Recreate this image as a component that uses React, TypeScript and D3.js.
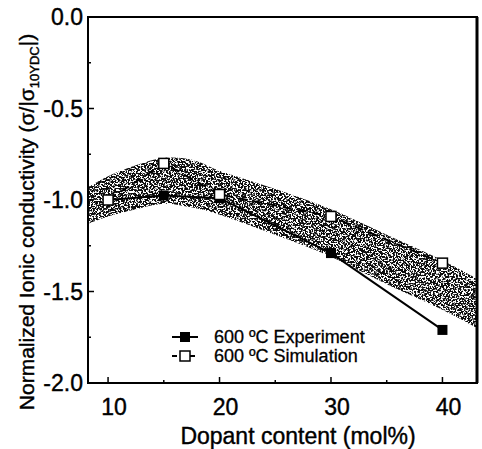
import React from "react";
import * as d3 from "d3";

const dopant = [10, 15, 20, 30, 40];
const experiment = [-1.0, -0.975, -0.99, -1.29, -1.71];
const simulation = [-1.0, -0.8, -0.97, -1.09, -1.345];
const bandX = [8.2, 10, 12.5, 15, 17.5, 20, 25, 30, 35, 40, 43.1];
const bandUpper = [-0.93, -0.87, -0.81, -0.77, -0.78, -0.84, -0.94, -1.05, -1.19, -1.33, -1.43];
const bandLower = [-1.13, -1.09, -1.05, -1.02, -1.04, -1.08, -1.19, -1.31, -1.46, -1.6, -1.7];
const xTicks = [10, 20, 30, 40];
const xMinor = [15, 25, 35];
const yTicks = [0, -0.5, -1, -1.5, -2];
const yMinor = [-0.25, -0.75, -1.25, -1.75];
const legendLabels = ["600 ºC Experiment", "600 ºC Simulation"];

const W = 482, H = 449;
const L = 88, R = 477, T = 17, B = 383;
const FONT = "'Liberation Sans', Arial, sans-serif";

export default function App() {
  const x = d3.scaleLinear().domain([8.2, 43.1]).range([L, R]);
  const y = d3.scaleLinear().domain([0, -2]).range([T, B]);

  const band = d3
    .area<number>()
    .x((_, i) => x(bandX[i]))
    .y0((_, i) => y(bandLower[i]))
    .y1((_, i) => y(bandUpper[i]))
    .curve(d3.curveCatmullRom)(bandX);

  const line = d3
    .line<number>()
    .x((_, i) => x(dopant[i]));
  const expPath = line.y((d) => y(d))(experiment);
  const simPath = line.y((d) => y(d))(simulation);

  const sq = 10;
  const lx0 = 172, lx1 = 198, ly0 = 337, ldy = 19;

  return (
    <svg
      width={W}
      height={H}
      style={{ position: "absolute", left: 0, top: 0, background: "#fff" }}
      fontFamily={FONT}
    >
      <defs>
        <filter id="stipple" x="0" y="0" width="100%" height="100%">
          <feTurbulence type="fractalNoise" baseFrequency="0.6" numOctaves="2" seed="7" result="n" />
          <feColorMatrix
            in="n"
            type="matrix"
            values="0 0 0 0 0  0 0 0 0 0  0 0 0 0 0  12 0 0 0 -5.2"
            result="a"
          />
          <feComposite in="SourceGraphic" in2="a" operator="in" />
        </filter>
        <clipPath id="plotclip">
          <rect x={L} y={T} width={R - L} height={B - T} />
        </clipPath>
      </defs>

      <g clipPath="url(#plotclip)">
        <path d={band || ""} fill="#111" filter="url(#stipple)" />
      </g>

      {/* frame */}
      <rect x={L} y={T} width={R - L} height={B - T} fill="none" stroke="#000" strokeWidth={2} />
      <line x1={R} x2={R} y1={T} y2={B} stroke="#000" strokeWidth={3} />

      <g stroke="#000" strokeWidth={0.4}>
        {/* x ticks */}
        {xTicks.map((t) => (
          <g key={"xt" + t}>
            <line x1={x(t)} x2={x(t)} y1={B} y2={B - 6} strokeWidth={1.5} />
            <text x={x(t) + 6} y={415} textAnchor="middle" fontSize={23}>
              {t}
            </text>
          </g>
        ))}
        {xMinor.map((t) => (
          <line key={"xm" + t} x1={x(t)} x2={x(t)} y1={B} y2={B - 3} strokeWidth={1.5} />
        ))}

        {/* y ticks */}
        {yTicks.map((t) => (
          <g key={"yt" + t}>
            <line x1={L} x2={L + 6} y1={y(t)} y2={y(t)} strokeWidth={1.5} />
            <text x={83} y={y(t) + 8} textAnchor="end" fontSize={23}>
              {t === 0 ? "0.0" : d3.format(".1f")(t).replace("−", "-")}
            </text>
          </g>
        ))}
        {yMinor.map((t) => (
          <line key={"ym" + t} x1={L} x2={L + 3} y1={y(t)} y2={y(t)} strokeWidth={1.5} />
        ))}
      </g>

      {/* series lines */}
      <path d={simPath || ""} fill="none" stroke="#000" strokeWidth={2} strokeDasharray="9,6" />
      <path d={expPath || ""} fill="none" stroke="#000" strokeWidth={2} />
      {dopant.map((d, i) => (
        <rect
          key={"e" + d}
          x={x(d) - sq / 2}
          y={y(experiment[i]) - sq / 2}
          width={sq}
          height={sq}
          fill="#000"
        />
      ))}
      {dopant.map((d, i) => (
        <rect
          key={"s" + d}
          x={x(d) - sq / 2}
          y={y(simulation[i]) - sq / 2}
          width={sq}
          height={sq}
          fill="#fff"
          stroke="#000"
          strokeWidth={1.5}
        />
      ))}

      {/* legend */}
      <line x1={lx0} x2={lx1} y1={ly0} y2={ly0} stroke="#000" strokeWidth={2} />
      <rect x={(lx0 + lx1) / 2 - 5} y={ly0 - 5} width={10} height={10} fill="#000" />
      <text x={214} y={ly0 + 6} fontSize={18} stroke="#000" strokeWidth={0.3}>
        {legendLabels[0]}
      </text>
      <line x1={lx0} x2={lx1} y1={ly0 + ldy} y2={ly0 + ldy} stroke="#000" strokeWidth={2} strokeDasharray="5,4" />
      <rect
        x={(lx0 + lx1) / 2 - 5}
        y={ly0 + ldy - 5}
        width={10}
        height={10}
        fill="#fff"
        stroke="#000"
        strokeWidth={1.5}
      />
      <text x={214} y={ly0 + ldy + 6} fontSize={18} stroke="#000" strokeWidth={0.3}>
        {legendLabels[1]}
      </text>

      {/* axis titles */}
      <text x={298} y={444} textAnchor="middle" fontSize={23} stroke="#000" strokeWidth={0.4}>
        Dopant content (mol%)
      </text>
      <text
        transform={`translate(34,${222}) rotate(-90)`}
        textAnchor="middle"
        fontSize={21}
        stroke="#000"
        strokeWidth={0.4}
      >
        Normalized Ionic conductivity (σ/|σ
        <tspan fontSize={13} dy={5}>10YDC</tspan>
        <tspan dy={-5}>|)</tspan>
      </text>
    </svg>
  );
}
